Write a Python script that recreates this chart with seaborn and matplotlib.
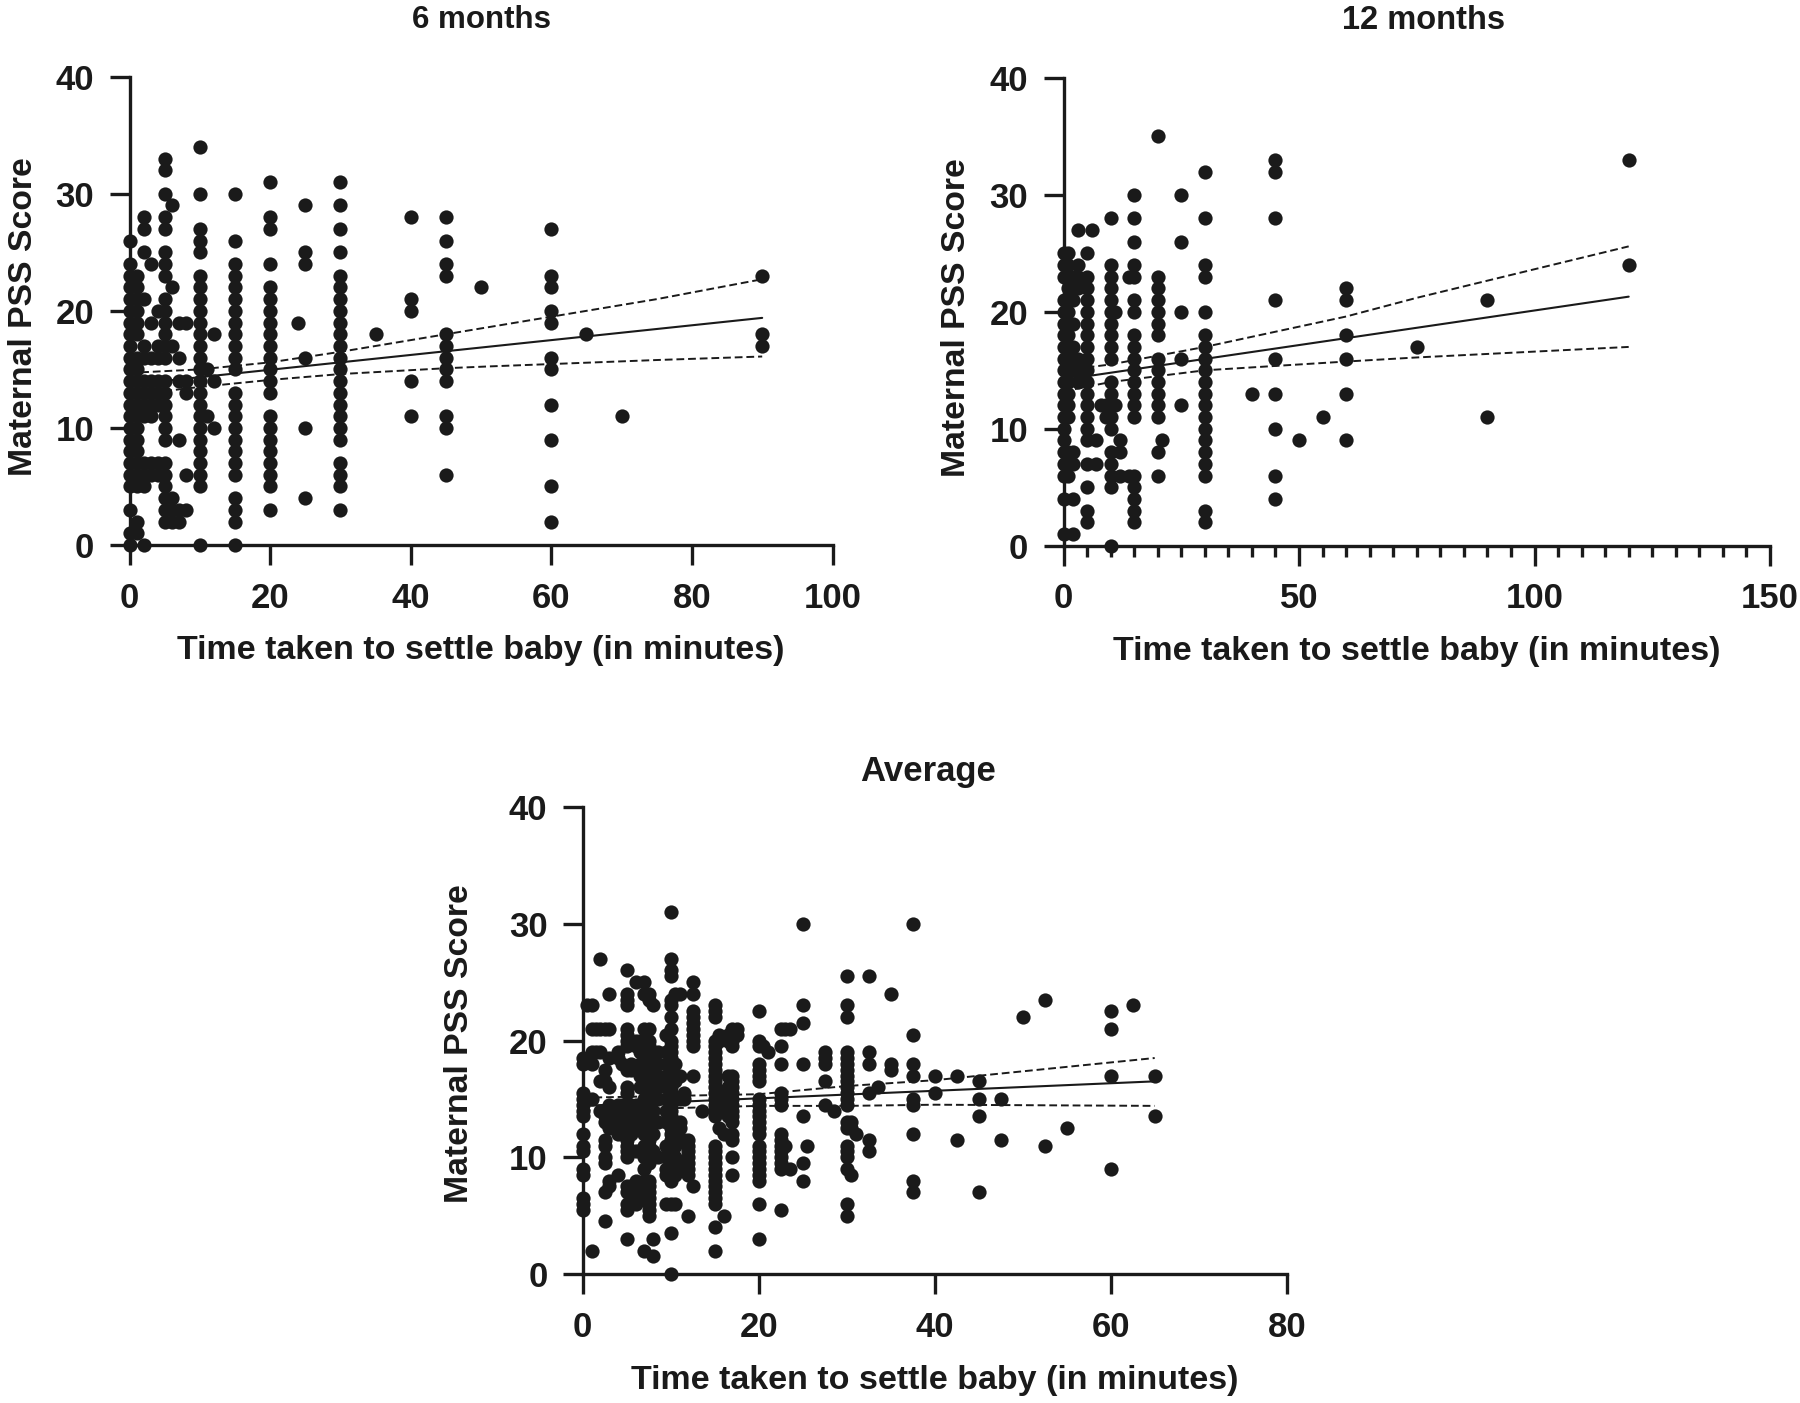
import pandas as pd
import matplotlib.pyplot as plt
import seaborn as sns
from matplotlib.ticker import MultipleLocator

sns.set_style("ticks")
plt.rcParams["font.family"] = ["Liberation Sans", "DejaVu Sans"]

INK = "#1a1a1a"
X_LABEL = "Time taken to settle baby (in minutes)"
Y_LABEL = "Maternal PSS Score"

# 6 months: one list of scores per distinct time value
m6_times = [0, 1, 2, 3, 4, 5, 6, 7, 8, 10, 11, 12, 15, 20, 24, 25, 30, 35, 40, 45, 50, 60, 65, 70, 90]
m6_scores = [
    [0, 1, 3, 5, 6, 7, 8, 9, 10, 11, 12, 13, 14, 15, 16, 17, 18, 19, 20, 21, 22, 23, 24, 26],
    [1, 2, 5, 6, 7, 8, 9, 10, 11, 12, 13, 14, 15, 16, 18, 19, 20, 21, 22, 23],
    [0, 5, 6, 7, 11, 12, 13, 14, 16, 17, 21, 25, 27, 28],
    [6, 7, 11, 12, 13, 14, 16, 19, 24],
    [6, 7, 12, 13, 14, 16, 17, 20],
    [2, 3, 4, 5, 6, 7, 9, 10, 11, 12, 13, 14, 16, 17, 18, 19, 20, 21, 23, 24, 25, 27, 28, 30, 32, 33],
    [2, 3, 4, 17, 22, 29],
    [2, 3, 9, 14, 16, 19],
    [3, 6, 13, 14, 19],
    [0, 5, 6, 7, 8, 9, 10, 11, 12, 13, 14, 15, 16, 17, 18, 19, 20, 21, 22, 23, 25, 26, 27, 30, 34],
    [11, 15],
    [10, 14, 18],
    [0, 2, 3, 4, 6, 7, 8, 9, 10, 11, 12, 13, 15, 16, 17, 18, 19, 20, 21, 22, 23, 24, 26, 30],
    [3, 5, 6, 7, 8, 9, 10, 11, 13, 14, 15, 16, 17, 18, 19, 20, 21, 22, 24, 27, 28, 31],
    [19],
    [4, 10, 16, 24, 25, 29],
    [3, 5, 6, 7, 9, 10, 11, 12, 13, 14, 15, 16, 17, 18, 19, 20, 21, 22, 23, 25, 27, 29, 31],
    [18],
    [11, 14, 20, 21, 28],
    [6, 10, 11, 14, 15, 16, 17, 18, 23, 24, 26, 28],
    [22],
    [2, 5, 9, 12, 15, 16, 19, 20, 22, 23, 27],
    [18],
    [11],
    [17, 18, 23],
]
m6_line_x = [0, 90]
m6_line_y = [13.7, 19.4]
m6_band_x = [0, 10, 20, 30, 45, 51, 75, 90]
m6_upper = [14.7, 15.0, 15.6, 16.5, 18.0, 18.6, 21.0, 22.7]
m6_lower = [12.8, 13.5, 14.1, 14.6, 15.1, 15.25, 15.8, 16.1]

# 12 months
m12_times = [0, 1, 2, 3, 5, 6, 7, 8, 9, 10, 11, 12, 14, 15, 20, 21, 25, 30, 40, 45, 50, 55, 60, 75, 90, 120]
m12_scores = [
    [1, 4, 6, 7, 8, 9, 10, 11, 12, 13, 14, 15, 16, 17, 18, 19, 20, 21, 23, 24, 25],
    [6, 7, 8, 11, 12, 13, 14, 15, 16, 17, 18, 19, 20, 21, 22, 23, 24, 25],
    [1, 4, 7, 8, 15, 16, 17, 19, 21, 22, 23],
    [14, 15, 16, 22, 23, 24, 27],
    [2, 3, 5, 7, 9, 10, 11, 12, 13, 14, 15, 16, 17, 18, 19, 20, 21, 22, 23, 25],
    [27],
    [7, 9],
    [12],
    [11, 12],
    [0, 5, 6, 7, 8, 10, 11, 12, 13, 14, 16, 17, 18, 19, 20, 21, 22, 23, 24, 28],
    [12, 20],
    [6, 8, 9],
    [6, 23],
    [2, 3, 4, 5, 6, 11, 12, 13, 14, 15, 16, 17, 18, 20, 21, 23, 24, 26, 28, 30],
    [6, 8, 11, 12, 13, 14, 15, 16, 18, 19, 20, 21, 22, 23, 35],
    [9],
    [12, 16, 20, 26, 30],
    [2, 3, 6, 7, 8, 9, 10, 11, 12, 13, 14, 15, 16, 17, 18, 20, 23, 24, 28, 32],
    [13],
    [4, 6, 10, 13, 16, 21, 28, 32, 33],
    [9],
    [11],
    [9, 13, 16, 18, 21, 22],
    [17],
    [11, 21],
    [24, 33],
]
m12_line_x = [0, 120]
m12_line_y = [14.2, 21.3]
m12_band_x = [0, 10, 30, 60, 75, 120]
m12_upper = [15.0, 15.5, 17.0, 19.6, 21.2, 25.6]
m12_lower = [13.2, 14.0, 15.0, 15.75, 16.1, 17.0]

# Average of both visits
avg_times = [0, 0.5, 1, 1.5, 2, 2.5, 3, 4, 4.5, 5, 5.5, 6, 6.5, 7, 7.5, 8, 8.5, 9.5, 10, 10.5, 11, 11.5, 12, 12.5,
             13.5, 15, 15.5, 16, 16.5, 17, 17.5, 20, 20.5, 21, 22.5, 23, 23.5, 25, 25.5, 27.5, 28.5, 30, 30.5,
             31, 32.5, 33.5, 35, 37.5, 40, 42.5, 45, 47.5, 50, 52.5, 55, 60, 62.5, 65]
avg_scores = [
    [5.5, 6, 6.5, 8.5, 9, 10.5, 11, 12, 13.5, 14, 14.5, 15, 15.5, 18, 18.5],
    [23],
    [2, 15, 18, 19, 21, 23],
    [19, 21],
    [14, 16.5, 19, 21, 27],
    [4.5, 7, 9.5, 10, 11, 11.5, 13, 13.5, 14, 16.5, 17.5, 21],
    [7.5, 8, 12.5, 13, 13.5, 14, 14.5, 16, 18.5, 21, 24],
    [8.5, 12, 12.5, 13, 13.5, 14, 14.5, 18.5, 19],
    [12, 12.5, 13, 13.5, 14, 14.5, 18],
    [3, 5.5, 6, 7, 7.5, 10, 10.5, 11, 11.5, 12, 13, 13.5, 14, 15.5, 16, 17.5, 19.5, 20, 20.5, 21, 23, 23.5, 24, 26],
    [7, 7.5, 12, 12.5, 13, 13.5, 14, 14.5, 17.5, 18],
    [6, 6.5, 7, 7.5, 8, 10.5, 12.5, 13, 13.5, 14, 14.5, 19.5, 20, 25],
    [6.5, 7, 7.5, 12.5, 13, 13.5, 14, 14.5, 16, 17, 18, 19, 20],
    [2, 7, 8, 9, 10, 11, 12, 13, 14, 15, 16, 17, 18, 19, 20, 21, 24, 25],
    [5, 5.5, 6, 6.5, 7, 7.5, 8, 9.5, 10.5, 11, 11.5, 12, 12.5, 13, 13.5, 14, 14.5, 15, 15.5, 16, 17, 18, 19, 19.5,
     20, 21, 23.5, 24],
    [1.5, 3, 10.5, 12, 13, 14, 15, 16, 17, 18, 19, 23],
    [10, 13, 15, 16, 17, 18, 19],
    [6, 8.5, 9, 10, 11, 13, 14, 15, 16, 17, 18, 19, 20.5],
    [0, 3.5, 6, 8, 8.5, 9, 9.5, 10, 10.5, 11, 11.5, 12, 12.5, 13, 13.5, 14, 14.5, 15, 15.5, 16, 16.5, 17, 17.5, 18,
     18.5, 19, 19.5, 20, 21, 22, 23, 23.5, 25.5, 26, 27, 31],
    [6, 8.5, 9, 10, 11, 12, 12.5, 13, 15, 16.5, 17, 18, 24],
    [9, 9.5, 12.5, 13, 15, 17, 24],
    [9, 11.5, 15, 15.5],
    [5, 8.5, 9, 9.5, 10, 10.5, 11, 11.5],
    [7.5, 17, 19.5, 20, 20.5, 21, 21.5, 22, 22.5, 24, 25],
    [14],
    [2, 4, 6, 6.5, 7, 7.5, 8, 8.5, 9, 9.5, 10, 10.5, 11, 13.5, 14, 14.5, 15, 15.5, 16, 16.5, 17, 17.5, 18, 18.5, 19,
     19.5, 20, 22, 22.5, 23],
    [12.5, 20, 20.5],
    [5, 12, 14, 15, 15.5],
    [13.5, 14, 15, 16, 17, 20, 20.5],
    [8.5, 10, 11.5, 12, 13, 13.5, 14, 14.5, 15, 15.5, 16, 16.5, 17, 19.5, 20, 21],
    [21, 20.5],
    [3, 6, 8, 8.5, 9, 9.5, 10, 10.5, 11, 12, 12.5, 13, 13.5, 14, 14.5, 15, 16.5, 17, 17.5, 18, 19.5, 20, 22.5],
    [19.5],
    [19],
    [5.5, 9, 9.5, 10, 10.5, 11, 11.5, 12, 14.5, 15, 15.5, 18, 19.5, 21],
    [11, 21],
    [9, 21],
    [8, 9.5, 13.5, 18, 21.5, 23, 30],
    [11],
    [14.5, 16.5, 18, 18.5, 19],
    [14],
    [5, 6, 9, 10, 10.5, 11, 12.5, 13, 14.5, 15, 15.5, 16, 16.5, 17, 17.5, 18, 18.5, 19, 22, 23, 25.5],
    [8.5, 12.5, 13],
    [12],
    [10.5, 11.5, 15.5, 18, 19, 25.5],
    [16],
    [17.5, 18, 24],
    [7, 8, 12, 14.5, 15, 17, 18, 20.5, 30],
    [15.5, 17],
    [11.5, 17],
    [7, 13.5, 15, 16.5],
    [11.5, 15],
    [22],
    [11, 23.5],
    [12.5],
    [9, 17, 21, 22.5],
    [23],
    [13.5, 17],
]
avg_line_x = [0, 65]
avg_line_y = [14.4, 16.5]
avg_band_x = [0, 20, 30, 40, 65]
avg_upper = [15.1, 15.4, 16.1, 16.6, 18.5]
avg_lower = [14.0, 14.4, 14.4, 14.5, 14.4]


def long_table(times, scores):
    rows = []
    for t, values in zip(times, scores):
        for v in values:
            rows.append({"minutes": t, "pss": v})
    return pd.DataFrame(rows)


def draw_panel(box, title, times, scores, line_x, line_y, band_x, upper, lower, xmax, xstep,
               minor=None, title_pad=35, title_size=22.5, title_x=0.5, ylabel_pad=12, ylabel_y=0.488):
    left, top, right, bottom = box
    ax = fig.add_axes([left / W, 1 - bottom / H, (right - left) / W, (bottom - top) / H])

    df = long_table(times, scores)
    sns.scatterplot(data=df, x="minutes", y="pss", ax=ax, color=INK, s=105,
                    linewidth=0, clip_on=False, zorder=3)

    sns.lineplot(x=line_x, y=line_y, ax=ax, color=INK, linewidth=1.5, zorder=4)
    for edge in (upper, lower):
        ax.plot(band_x, edge, color=INK, linewidth=1.4, dashes=(4, 2), zorder=4)

    ax.set_xlim(0, xmax)
    ax.set_ylim(0, 40)
    ax.xaxis.set_major_locator(MultipleLocator(xstep))
    ax.yaxis.set_major_locator(MultipleLocator(10))
    if minor:
        ax.xaxis.set_minor_locator(MultipleLocator(minor))
        ax.tick_params(axis="x", which="minor", length=8, width=2.4, color=INK)

    ax.tick_params(axis="both", which="major", length=14.4, width=2.4, color=INK,
                   labelsize=25, labelcolor=INK)
    ax.tick_params(axis="x", which="major", pad=12)
    ax.tick_params(axis="y", which="major", pad=11)
    for label in ax.get_xticklabels() + ax.get_yticklabels():
        label.set_fontweight("bold")

    sns.despine(ax=ax)
    for side in ("left", "bottom"):
        ax.spines[side].set_linewidth(2.4)
        ax.spines[side].set_color(INK)

    ax.set_xlabel(X_LABEL, fontsize=24.5, fontweight="bold", color=INK, labelpad=15)
    ax.set_ylabel(Y_LABEL, fontsize=24.3, fontweight="bold", color=INK, labelpad=ylabel_pad, y=ylabel_y)
    ax.set_title(title, fontsize=title_size, fontweight="bold", color=INK, pad=title_pad, x=title_x)
    return ax


W, H = 1800, 1403
fig = plt.figure(figsize=(W / 100, H / 100), dpi=100)

draw_panel((129.5, 76.7, 832.5, 545), "6 months", m6_times, m6_scores, m6_line_x, m6_line_y,
           m6_band_x, m6_upper, m6_lower, 100, 20)
draw_panel((1063.5, 78, 1770, 545.7), "12 months", m12_times, m12_scores, m12_line_x, m12_line_y,
           m12_band_x, m12_upper, m12_lower, 150, 50, minor=5, title_size=23.5, title_x=0.509, ylabel_pad=13)
draw_panel((582.7, 807, 1286.7, 1274), "Average", avg_times, avg_scores, avg_line_x, avg_line_y,
           avg_band_x, avg_upper, avg_lower, 80, 20, title_pad=19, title_size=25, title_x=0.49,
           ylabel_pad=24, ylabel_y=0.4925)

fig.savefig("out.png", dpi=100)
